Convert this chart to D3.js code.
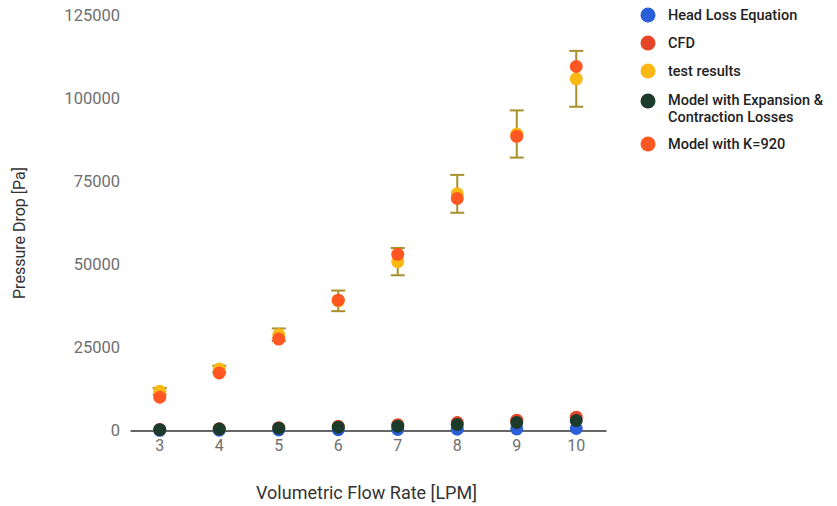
<!DOCTYPE html>
<html>
<head>
<meta charset="utf-8">
<script src="https://cdn.jsdelivr.net/npm/d3@7/dist/d3.min.js"></script>
<style>
  html, body { margin: 0; padding: 0; background: #fff; }
  svg { display: block; font-family: Roboto, "Noto Sans", sans-serif; }
</style>
</head>
<body>
<svg id="chart" width="837" height="506"></svg>
<script>
// ---- data ----
const flowRates = [3, 4, 5, 6, 7, 8, 9, 10];
const headLoss   = [60, 100, 160, 230, 300, 380, 480, 600];
const cfd        = [300, 550, 850, 1250, 1750, 2400, 3100, 4000];
const testResults = [11800, 18500, 28800, 39000, 50800, 71200, 89200, 105800];
const testError   = [1000, 1000, 1900, 3100, 4100, 5700, 7100, 8400];
const modelExpansion = [250, 450, 700, 1000, 1300, 1800, 2400, 3000];
const modelK920  = [10000, 17300, 27500, 39200, 53000, 69800, 88500, 109500];
const yTicks = [0, 25000, 50000, 75000, 100000, 125000];

const seriesNames = ["Head Loss Equation", "CFD", "test results",
  "Model with Expansion & Contraction Losses", "Model with K=920"];
const seriesData = [headLoss, cfd, testResults, modelExpansion, modelK920];
const seriesColors = ["#2b5fd9", "#e5462a", "#fbb714", "#1c3b2b", "#ff5722"];

// ---- layout ----
const svg = d3.select("#chart");
const plotLeft = 130, plotRight = 606, plotTop = 15, plotBottom = 430.5;

const x = d3.scaleBand().domain(flowRates).range([plotLeft, plotRight]);
const y = d3.scaleLinear().domain([0, 125000]).range([plotBottom, plotTop]);
const cx = v => x(v) + x.bandwidth() / 2;

// y axis labels
const yAxis = svg.append("g")
  .attr("transform", `translate(${plotLeft - 10},0)`)
  .call(d3.axisLeft(y).tickValues(yTicks).tickSize(0).tickPadding(0).tickFormat(d3.format("d")));
yAxis.select(".domain").remove();
yAxis.selectAll("text").attr("fill", "#6f6f6f").style("font-size", "16.5px")
  .style("font-family", "Roboto, sans-serif");

// x axis
const xAxis = svg.append("g")
  .attr("transform", `translate(0,${plotBottom})`)
  .call(d3.axisBottom(x).tickSize(0).tickPadding(9));
xAxis.select(".domain").attr("stroke", "#333").attr("stroke-width", 1.3);
xAxis.selectAll("text").attr("fill", "#6f6f6f").style("font-size", "16px")
  .style("font-family", "Roboto, sans-serif");

// axis titles
svg.append("text")
  .attr("x", (255 + 478) / 2).attr("y", 499)
  .attr("text-anchor", "middle").attr("fill", "#333")
  .style("font-size", "18px")
  .text("Volumetric Flow Rate [LPM]");
svg.append("text")
  .attr("transform", `translate(25,233) rotate(-90)`)
  .attr("text-anchor", "middle").attr("fill", "#333")
  .style("font-size", "16px")
  .text("Pressure Drop [Pa]");

// points & error bars
const plot = svg.append("g");
const r = 6.5;
seriesData.forEach((vals, si) => {
  const g = plot.append("g");
  if (si === 2) {
    const eb = g.append("g").attr("stroke", "#a8902c").attr("stroke-width", 2);
    flowRates.forEach((f, i) => {
      const hi = y(testResults[i] + testError[i]);
      const lo = y(testResults[i] - testError[i]);
      eb.append("line").attr("x1", cx(f)).attr("x2", cx(f)).attr("y1", hi).attr("y2", lo);
      eb.append("line").attr("x1", cx(f) - 7).attr("x2", cx(f) + 7).attr("y1", hi).attr("y2", hi);
      eb.append("line").attr("x1", cx(f) - 7).attr("x2", cx(f) + 7).attr("y1", lo).attr("y2", lo);
    });
  }
  g.selectAll("circle").data(vals).enter().append("circle")
    .attr("cx", (d, i) => cx(flowRates[i]))
    .attr("cy", d => y(d))
    .attr("r", r)
    .attr("fill", seriesColors[si]);
});

// legend
const legend = svg.append("g");
const legendRows = [
  { lines: ["Head Loss Equation"], y: 15 },
  { lines: ["CFD"], y: 43 },
  { lines: ["test results"], y: 71 },
  { lines: ["Model with Expansion &", "Contraction Losses"], y: 100 },
  { lines: ["Model with K=920"], y: 144 }
];
legendRows.forEach((row, i) => {
  legend.append("circle").attr("cx", 648).attr("cy", row.y + (row.lines.length > 1 ? 1 : 0)).attr("r", 7.5)
    .attr("fill", seriesColors[i]);
  row.lines.forEach((ln, j) => {
    legend.append("text").attr("x", 668).attr("y", row.y + j * 16.5)
      .attr("dy", "0.35em").attr("fill", "#222")
      .style("font-size", "14.5px").style("font-weight", "500")
      .text(ln);
  });
});
</script>
</body>
</html>
